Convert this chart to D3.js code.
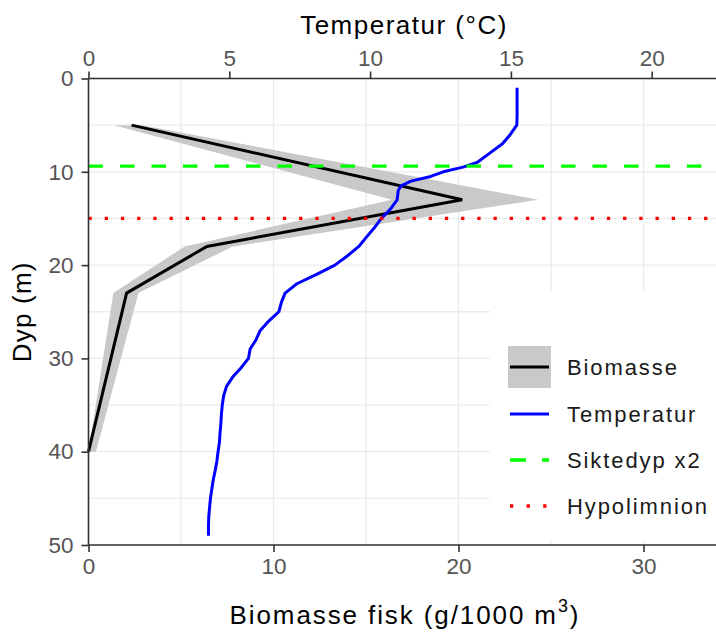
<!DOCTYPE html>
<head>
  <meta charset="utf-8">
  <script src="https://cdnjs.cloudflare.com/ajax/libs/d3/7.8.5/d3.min.js"></script>
  <style>
    body { margin: 0; background: #fff; }
    text { font-family: "Liberation Sans", Arial, sans-serif; }
  </style>
</head>
<body>
  <svg width="716" height="632"></svg>
  <script>
// biomasse fisk (g/1000 m3) per dyp, med usikkerhetsbånd
var bioDepth = [5, 13, 18, 23, 40];
var bioValue = [2.33, 20.2, 6.4, 2.06, 0];
var bioLow   = [1.38, 16.4, 5.2, 1.34, 0];
var bioHigh  = [2.9, 24.3, 7.8, 2.7, 0.4];

// temperaturprofil
var tempDepth = [1, 2, 3, 4, 5, 6, 7, 8, 9, 9.5, 10, 10.5, 11, 11.5, 12, 13, 14, 15, 16, 17,
                 18, 19, 20, 21, 22, 23, 24, 25, 26, 27, 28, 29, 30, 31, 32, 33, 34, 35, 36, 37,
                 38, 39, 40, 41, 42, 43, 44, 45, 46, 47, 48, 49];
var tempValue = [15.22, 15.22, 15.22, 15.22, 15.21, 14.98, 14.7, 14.25, 13.8, 13.3, 12.6, 12.15, 11.45, 11.1, 11.0, 10.96, 10.72, 10.4, 10.15, 9.87,
                 9.6, 9.2, 8.75, 8.1, 7.4, 6.98, 6.85, 6.76, 6.4, 6.1, 5.95, 5.74, 5.68, 5.42, 5.12, 4.9, 4.8, 4.75, 4.72, 4.7,
                 4.67, 4.65, 4.6, 4.56, 4.5, 4.43, 4.38, 4.33, 4.3, 4.27, 4.26, 4.26];

var siktedyp = 9.4;
var hypolimnion = 15;

var bioTicks = [0, 10, 20, 30];
var tempTicks = [0, 5, 10, 15, 20];
var depthTicks = [0, 10, 20, 30, 40, 50];
var legendLabels = ["Biomasse", "Temperatur", "Siktedyp x2", "Hypolimnion"];

var svg = d3.select("svg"),
    pL = 88.5, pR = 716, pT = 78.5, pB = 545;

var x = d3.scaleLinear().domain([0, (pR - pL) / 18.5]).range([pL, pR]);
var xT = d3.scaleLinear().domain([0, (pR - pL) / 28.16]).range([pL, pR]);
var y = d3.scaleLinear().domain([0, 50]).range([pT, pB]);

var g = svg.append("g");

// grid
g.selectAll(".vgrid")
    .data(d3.range(0, x.domain()[1], 5))
  .enter().append("line")
    .attr("x1", function(d) { return x(d); }).attr("x2", function(d) { return x(d); })
    .attr("y1", pT).attr("y2", pB)
    .attr("stroke", "#ebebeb").attr("stroke-width", 1.3);

g.selectAll(".hgrid")
    .data(d3.range(0, 51, 5))
  .enter().append("line")
    .attr("x1", pL).attr("x2", pR)
    .attr("y1", function(d) { return y(d); }).attr("y2", function(d) { return y(d); })
    .attr("stroke", "#ebebeb").attr("stroke-width", 1.3);

// ribbon + biomasse
var bio = bioDepth.map(function(d, i) { return {d: d, v: bioValue[i], lo: bioLow[i], hi: bioHigh[i]}; });

g.append("path")
    .datum(bio)
    .attr("fill", "#c9c9c9")
    .attr("d", d3.area().y(function(d) { return y(d.d); })
        .x0(function(d) { return x(d.lo); }).x1(function(d) { return x(d.hi); }));

g.append("path")
    .datum(bio)
    .attr("fill", "none").attr("stroke", "#000").attr("stroke-width", 3)
    .attr("d", d3.line().x(function(d) { return x(d.v); }).y(function(d) { return y(d.d); }));

// temperatur
g.append("path")
    .datum(tempDepth.map(function(d, i) { return [tempValue[i], d]; }))
    .attr("fill", "none").attr("stroke", "#0000ff").attr("stroke-width", 3)
    .attr("stroke-linejoin", "round")
    .attr("d", d3.line().x(function(d) { return xT(d[0]); }).y(function(d) { return y(d[1]); }));

// siktedyp / hypolimnion
g.append("line")
    .attr("x1", pL).attr("x2", pR).attr("y1", y(siktedyp)).attr("y2", y(siktedyp))
    .attr("stroke", "#00ff00").attr("stroke-width", 3.3).attr("stroke-dasharray", "14.5 17");
g.append("line")
    .attr("x1", pL).attr("x2", pR).attr("y1", y(hypolimnion)).attr("y2", y(hypolimnion))
    .attr("stroke", "#ff0000").attr("stroke-width", 3.3).attr("stroke-dasharray", "3.3 12.9");

// legend
var lg = svg.append("g");
lg.append("rect").attr("x", 490).attr("y", 292).attr("width", 230).attr("height", 250).attr("fill", "#fff");
var ky = [367, 414, 460, 506];
lg.append("rect").attr("x", 508).attr("y", ky[0] - 21).attr("width", 43).attr("height", 42).attr("fill", "#c9c9c9");
lg.append("line").attr("x1", 510).attr("x2", 549).attr("y1", ky[0]).attr("y2", ky[0])
    .attr("stroke", "#000").attr("stroke-width", 3);
lg.append("line").attr("x1", 510).attr("x2", 549).attr("y1", ky[1]).attr("y2", ky[1])
    .attr("stroke", "#0000ff").attr("stroke-width", 3);
lg.append("line").attr("x1", 510).attr("x2", 549).attr("y1", ky[2]).attr("y2", ky[2])
    .attr("stroke", "#00ff00").attr("stroke-width", 3.3).attr("stroke-dasharray", "16 16");
lg.append("line").attr("x1", 510).attr("x2", 549).attr("y1", ky[3]).attr("y2", ky[3])
    .attr("stroke", "#ff0000").attr("stroke-width", 3.3).attr("stroke-dasharray", "3.3 13.3");
lg.selectAll(".lt")
    .data(legendLabels)
  .enter().append("text")
    .attr("x", 567).attr("y", function(d, i) { return ky[i]; })
    .attr("dy", "0.36em")
    .attr("font-size", 22).attr("letter-spacing", 1.9)
    .attr("fill", "#1a1a1a")
    .text(function(d) { return d; });

// axes
var axL = svg.append("g").attr("transform", "translate(" + pL + ",0)")
    .call(d3.axisLeft(y).tickValues(depthTicks).tickSize(7).tickPadding(8));
var axB = svg.append("g").attr("transform", "translate(0," + pB + ")")
    .call(d3.axisBottom(x).tickValues(bioTicks).tickSize(7).tickPadding(6));
var axT = svg.append("g").attr("transform", "translate(0," + pT + ")")
    .call(d3.axisTop(xT).tickValues(tempTicks).tickSize(7).tickPadding(6));

[axL, axB, axT].forEach(function(a) {
  a.select(".domain").attr("stroke", "#333").attr("stroke-width", 1.6);
  a.selectAll(".tick line").attr("stroke", "#333").attr("stroke-width", 1.6);
  a.selectAll(".tick text").attr("font-size", 22.5).attr("fill", "#555")
    .style("font-family", "'Liberation Sans', Arial, sans-serif");
});
axL.select(".domain").attr("d", "M0," + pT + "V" + pB);
axB.select(".domain").attr("d", "M" + pL + ",0H" + pR);
axT.select(".domain").attr("d", "M" + pL + ",0H" + pR);

// titles
svg.append("text")
    .attr("x", 404).attr("y", 34).attr("text-anchor", "middle")
    .attr("font-size", 26).attr("letter-spacing", 1.5).attr("fill", "#000")
    .text("Temperatur (°C)");

var bt = svg.append("text")
    .attr("x", 405).attr("y", 624).attr("text-anchor", "middle")
    .attr("font-size", 26).attr("letter-spacing", 1.9).attr("fill", "#000");
bt.append("tspan").text("Biomasse fisk (g/1000 m");
bt.append("tspan").attr("font-size", 18).attr("dy", -12).text("3");
bt.append("tspan").attr("dy", 12).text(")");

svg.append("text")
    .attr("transform", "translate(31," + ((pT + pB) / 2) + ") rotate(-90)")
    .attr("text-anchor", "middle")
    .attr("font-size", 26).attr("letter-spacing", 1.2).attr("fill", "#000")
    .text("Dyp (m)");
  </script>
</body>
